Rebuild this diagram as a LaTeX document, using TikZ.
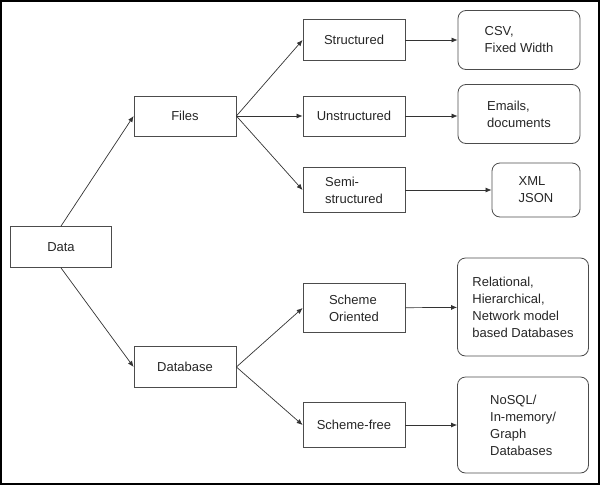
\documentclass[tikz,border=0pt]{standalone}
\usepackage{fontspec}
\setmainfont{Liberation Sans}
\usetikzlibrary{positioning,arrows.meta}

\begin{document}
\begin{tikzpicture}[x=1pt,y=-1pt,
  box/.style={draw=black!70,line width=0.8pt,align=left,inner sep=0pt,
    font=\fontsize{13}{17}\selectfont,text=black!85},
  rbox/.style={box,rounded corners=8pt},
  link/.style={draw=black!80,line width=0.7pt,-{Latex[length=6pt,width=5pt]}}]

\useasboundingbox (0,0) rectangle (600,485);

%Outer frame
\draw[line width=2pt] (1,1) rectangle (599,484);

%Sizes
\def\w{102}
\def\rw{122}

%First level
\node[box,minimum width=101,minimum height=41] (data) at (61,247) {Data};

%Second level
\node[box,minimum width=\w,minimum height=40] (files) at (185,116) {Files};
\node[box,minimum width=\w,minimum height=41] (database) at (185,367) {Database};

%Third level
\node[box,minimum width=\w,minimum height=41] (structured) at (354,40) {Structured};
\node[box,minimum width=\w,minimum height=40] (unstructured) at (354,116) {Unstructured};
\node[box,minimum width=\w,minimum height=45] (semi) at (354,190) {Semi-\\structured};
\node[box,minimum width=\w,minimum height=49] (oriented) at (354,308) {Scheme\\Oriented};
\node[box,minimum width=\w,minimum height=45] (free) at (354,425) {Scheme-free};

%Examples
\node[rbox,minimum width=\rw,minimum height=59] (csv) at (519,40) {CSV,\\Fixed Width};
\node[rbox,minimum width=\rw,minimum height=59] (emails) at (519,114) {Emails,\\documents};
\node[rbox,minimum width=88,minimum height=54] (xml) at (536,190) {XML\\JSON};
\node[rbox,minimum width=131,minimum height=98] (relational) at (523,307) {Relational,\\Hierarchical,\\Network model\\based Databases};
\node[rbox,minimum width=131,minimum height=96] (nosql) at (523,425) {NoSQL/\\In-memory/\\Graph\\Databases};

%Drawing arrows
\draw[link] (data.north) -- (files.west);
\draw[link] (data.south) -- (database.west);
\draw[link] (files.east) -- (structured.west);
\draw[link] (files.east) -- (unstructured.west);
\draw[link] (files.east) -- (semi.west);
\draw[link] (database.east) -- (oriented.west);
\draw[link] (database.east) -- (free.west);
\draw[link] (structured) -- (csv);
\draw[link] (unstructured) -- (unstructured -| emails.west);
\draw[link] (semi) -- (xml);
\draw[link] (oriented) -- (relational);
\draw[link] (free) -- (nosql);

\end{tikzpicture}
\end{document}
